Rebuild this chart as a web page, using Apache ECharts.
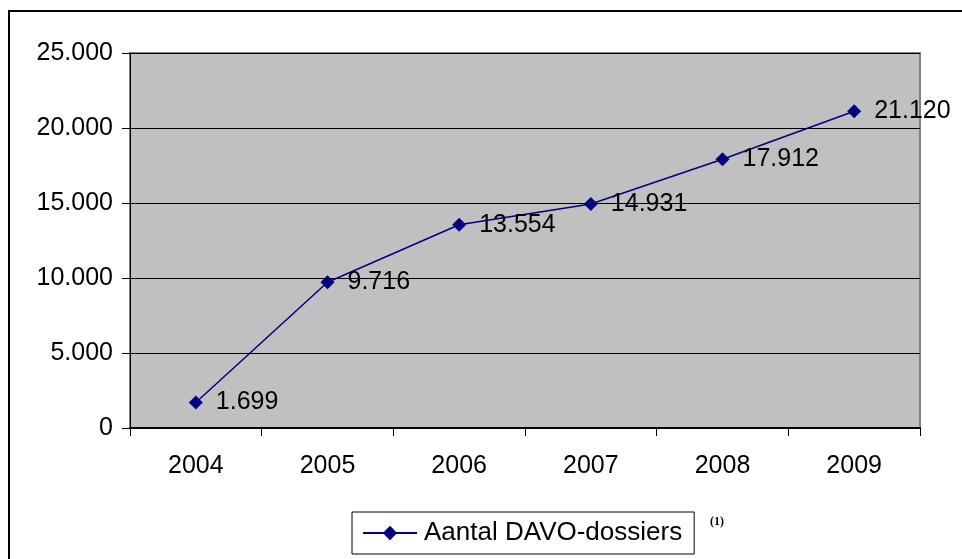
<!DOCTYPE html>
<html><head><meta charset="utf-8">
<script src="https://cdn.jsdelivr.net/npm/echarts@6/dist/echarts.min.js"></script>
<style>
html,body{margin:0;padding:0;background:#fff;overflow:hidden}
#frame{position:absolute;left:8px;top:10px;width:1000px;height:600px;border-left:2px solid #000;border-top:2px solid #000;box-sizing:border-box}
#c{position:absolute;left:0;top:0;width:962px;height:559px}
</style></head>
<body>
<div id="frame"></div>
<div id="c"></div>
<script>
const categories = ['2004','2005','2006','2007','2008','2009'];
const values = [1699, 9716, 13554, 14931, 17912, 21120];
const seriesName = 'Aantal DAVO-dossiers';
const note = '(1)';

function fmt(v){ return String(v).replace(/\B(?=(\d{3})+(?!\d))/g,'.'); }

const chart = echarts.init(document.getElementById('c'), null, {renderer:'canvas'});
const font = 'Liberation Sans, Arial, sans-serif';
chart.setOption({
  animation:false,
  backgroundColor:'transparent',
  grid:{left:130, top:53, width:790, height:375, show:true, backgroundColor:'#C0C0C0', borderColor:'#808080', borderWidth:2},
  xAxis:{type:'category', data:categories, boundaryGap:true,
    axisLine:{lineStyle:{color:'#000', width:2}},
    axisTick:{show:true, length:8, lineStyle:{color:'#000'}},
    axisLabel:{fontFamily:font, fontSize:25, color:'#000', margin:26}},
  yAxis:{type:'value', min:0, max:25000, interval:5000,
    axisLine:{show:true, lineStyle:{color:'#000', width:1}},
    axisTick:{show:true, length:8, lineStyle:{color:'#000'}},
    splitLine:{lineStyle:{color:'#000', width:1}},
    axisLabel:{fontFamily:font, fontSize:25, color:'#000', margin:17, formatter:v=>fmt(v)}},
  legend:{show:true, data:[seriesName], left:352, top:512,
    padding:[8,12,8,10], itemWidth:54, itemHeight:18, itemGap:0,
    borderColor:'#000', borderWidth:1, backgroundColor:'#fff',
    textStyle:{fontFamily:font, fontSize:26, color:'#000', padding:[0,0,0,2]}},
  graphic:[
    {type:'text', left:710, top:516, style:{text:note, font:'bold 12px "Liberation Serif", serif', fill:'#000'}}
  ],
  series:[{name:seriesName, type:'line', data:values, symbol:'diamond', symbolSize:14,
    lineStyle:{color:'#000080', width:1.5}, itemStyle:{color:'#000080'},
    label:{show:true, position:'right', distance:13, fontFamily:font, fontSize:25, color:'#000', formatter:p=>fmt(p.value)}}]
});
</script>
</body></html>
